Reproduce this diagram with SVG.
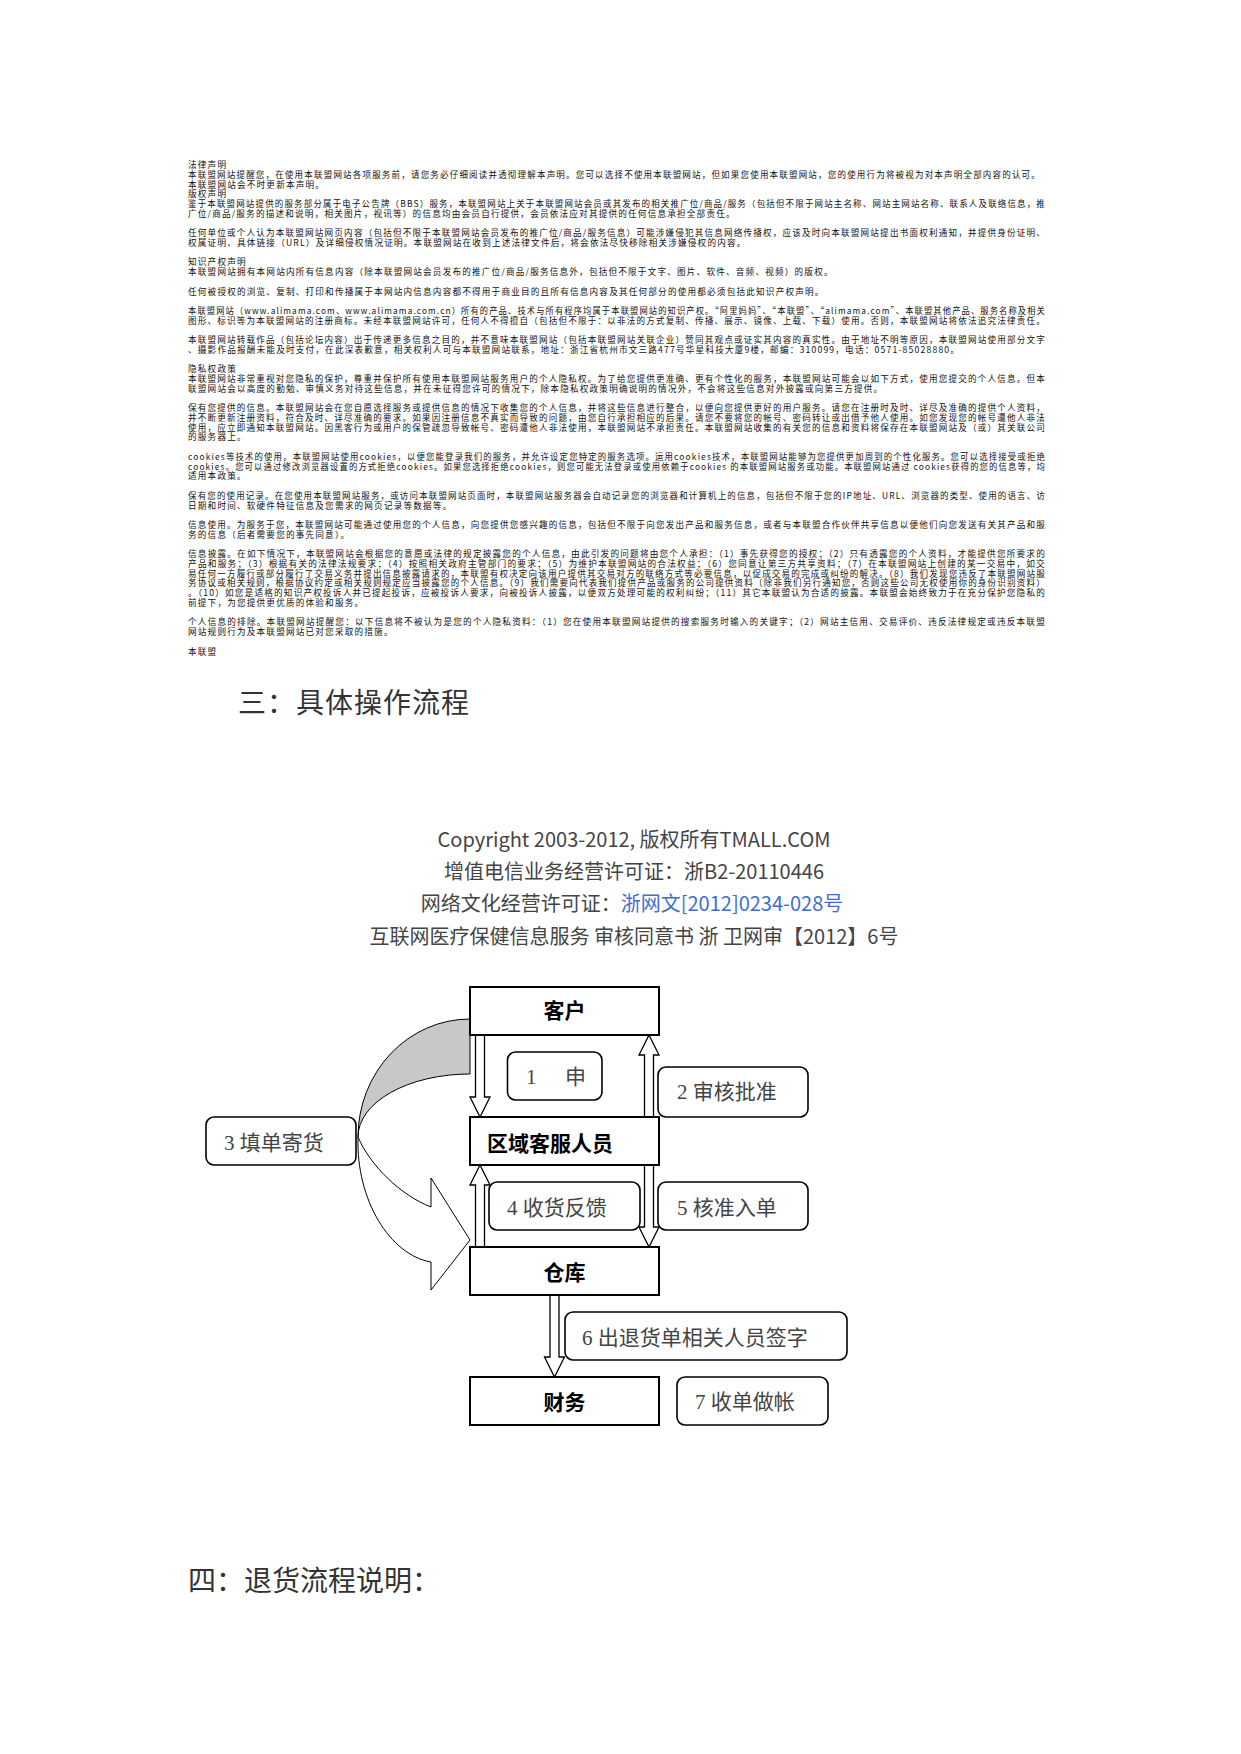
<svg xmlns="http://www.w3.org/2000/svg" width="1241" height="1754" viewBox="0 0 1241 1754">
<style>
.s{font-family:"Noto Sans CJK SC","Noto Sans",sans-serif;font-size:8.6px;letter-spacing:1.2px;fill:#111}
.h{font-family:"Noto Sans CJK SC",sans-serif;font-size:28px;fill:#333}
.c{font-family:"Noto Sans CJK SC","Open Sans",sans-serif;font-size:20px;fill:#444;text-anchor:middle}
.lk{fill:#3d6fd0}
.box{fill:#fff;stroke:#000;stroke-width:2}
.rbox{fill:#fff;stroke:#000;stroke-width:1.6}
.bt{font-family:"Noto Sans CJK SC",sans-serif;font-weight:bold;font-size:21px;fill:#000}
.lt{font-family:"Liberation Serif","Noto Sans CJK SC",serif;font-size:21px;fill:#444}
.arr{fill:#fff;stroke:#000;stroke-width:1.3}
</style>
<rect width="1241" height="1754" fill="#fff"/>
<g id="legal-text">
<text class="s" x="188" y="168.0">法律声明</text>
<text class="s" x="188" y="177.7" textLength="853" lengthAdjust="spacingAndGlyphs">本联盟网站提醒您，在使用本联盟网站各项服务前，请您务必仔细阅读并透彻理解本声明。您可以选择不使用本联盟网站，但如果您使用本联盟网站，您的使用行为将被视为对本声明全部内容的认可。</text>
<text class="s" x="188" y="187.5">本联盟网站会不时更新本声明。</text>
<text class="s" x="188" y="197.2">版权声明</text>
<text class="s" x="188" y="206.9" textLength="858" lengthAdjust="spacingAndGlyphs">鉴于本联盟网站提供的服务部分属于电子公告牌（BBS）服务，本联盟网站上关于本联盟网站会员或其发布的相关推广位/商品/服务（包括但不限于网站主名称、网站主网站名称、联系人及联络信息，推</text>
<text class="s" x="188" y="216.7">广位/商品/服务的描述和说明，相关图片，视讯等）的信息均由会员自行提供，会员依法应对其提供的任何信息承担全部责任。</text>
<text class="s" x="188" y="236.1" textLength="858" lengthAdjust="spacingAndGlyphs">任何单位或个人认为本联盟网站网页内容（包括但不限于本联盟网站会员发布的推广位/商品/服务信息）可能涉嫌侵犯其信息网络传播权，应该及时向本联盟网站提出书面权利通知，并提供身份证明、</text>
<text class="s" x="188" y="245.8">权属证明、具体链接（URL）及详细侵权情况证明。本联盟网站在收到上述法律文件后，将会依法尽快移除相关涉嫌侵权的内容。</text>
<text class="s" x="188" y="265.3">知识产权声明</text>
<text class="s" x="188" y="275.0">本联盟网站拥有本网站内所有信息内容（除本联盟网站会员发布的推广位/商品/服务信息外，包括但不限于文字、图片、软件、音频、视频）的版权。</text>
<text class="s" x="188" y="294.5">任何被授权的浏览、复制、打印和传播属于本网站内信息内容都不得用于商业目的且所有信息内容及其任何部分的使用都必须包括此知识产权声明。</text>
<text class="s" x="188" y="313.9" textLength="858" lengthAdjust="spacingAndGlyphs">本联盟网站（www.alimama.com、www.alimama.com.cn）所有的产品、技术与所有程序均属于本联盟网站的知识产权。“阿里妈妈”、“本联盟”、“alimama.com”、本联盟其他产品、服务名称及相关</text>
<text class="s" x="188" y="323.7" textLength="858" lengthAdjust="spacingAndGlyphs">图形、标识等为本联盟网站的注册商标。未经本联盟网站许可，任何人不得擅自（包括但不限于：以非法的方式复制、传播、展示、镜像、上载、下载）使用。否则，本联盟网站将依法追究法律责任。</text>
<text class="s" x="188" y="343.1" textLength="858" lengthAdjust="spacingAndGlyphs">本联盟网站转载作品（包括论坛内容）出于传递更多信息之目的，并不意味本联盟网站（包括本联盟网站关联企业）赞同其观点或证实其内容的真实性。由于地址不明等原因，本联盟网站使用部分文字</text>
<text class="s" x="188" y="352.9">、摄影作品报酬未能及时支付，在此深表歉意，相关权利人可与本联盟网站联系，地址：浙江省杭州市文三路477号华星科技大厦9楼，邮编：310099，电话：0571-85028880。</text>
<text class="s" x="188" y="372.3">隐私权政策</text>
<text class="s" x="188" y="382.1" textLength="858" lengthAdjust="spacingAndGlyphs">本联盟网站非常重视对您隐私的保护，尊重并保护所有使用本联盟网站服务用户的个人隐私权。为了给您提供更准确、更有个性化的服务，本联盟网站可能会以如下方式，使用您提交的个人信息。但本</text>
<text class="s" x="188" y="391.8">联盟网站会以高度的勤勉、审慎义务对待这些信息，并在未征得您许可的情况下，除本隐私权政策明确说明的情况外，不会将这些信息对外披露或向第三方提供。</text>
<text class="s" x="188" y="411.3" textLength="858" lengthAdjust="spacingAndGlyphs">保有您提供的信息。本联盟网站会在您自愿选择服务或提供信息的情况下收集您的个人信息，并将这些信息进行整合，以便向您提供更好的用户服务。请您在注册时及时、详尽及准确的提供个人资料，</text>
<text class="s" x="188" y="421.0" textLength="858" lengthAdjust="spacingAndGlyphs">并不断更新注册资料，符合及时、详尽准确的要求。如果因注册信息不真实而导致的问题，由您自行承担相应的后果。请您不要将您的帐号、密码转让或出借予他人使用。如您发现您的帐号遭他人非法</text>
<text class="s" x="188" y="430.7" textLength="858" lengthAdjust="spacingAndGlyphs">使用，应立即通知本联盟网站。因黑客行为或用户的保管疏忽导致帐号、密码遭他人非法使用，本联盟网站不承担责任。本联盟网站收集的有关您的信息和资料将保存在本联盟网站及（或）其关联公司</text>
<text class="s" x="188" y="440.4">的服务器上。</text>
<text class="s" x="188" y="459.9" textLength="858" lengthAdjust="spacingAndGlyphs">cookies等技术的使用。本联盟网站使用cookies，以便您能登录我们的服务，并允许设定您特定的服务选项。运用cookies技术，本联盟网站能够为您提供更加周到的个性化服务。您可以选择接受或拒绝</text>
<text class="s" x="188" y="469.6" textLength="858" lengthAdjust="spacingAndGlyphs">cookies。您可以通过修改浏览器设置的方式拒绝cookies。如果您选择拒绝cookies，则您可能无法登录或使用依赖于cookies 的本联盟网站服务或功能。本联盟网站通过 cookies获得的您的信息等，均</text>
<text class="s" x="188" y="479.4">适用本政策。</text>
<text class="s" x="188" y="498.8" textLength="858" lengthAdjust="spacingAndGlyphs">保有您的使用记录。在您使用本联盟网站服务，或访问本联盟网站页面时，本联盟网站服务器会自动记录您的浏览器和计算机上的信息，包括但不限于您的IP地址、URL、浏览器的类型、使用的语言、访</text>
<text class="s" x="188" y="508.6">日期和时间、软硬件特征信息及您需求的网页记录等数据等。</text>
<text class="s" x="188" y="528.0" textLength="858" lengthAdjust="spacingAndGlyphs">信息使用。为服务于您，本联盟网站可能通过使用您的个人信息，向您提供您感兴趣的信息，包括但不限于向您发出产品和服务信息，或者与本联盟合作伙伴共享信息以便他们向您发送有关其产品和服</text>
<text class="s" x="188" y="537.7">务的信息（后者需要您的事先同意）。</text>
<text class="s" x="188" y="557.2" textLength="858" lengthAdjust="spacingAndGlyphs">信息披露。在如下情况下，本联盟网站会根据您的意愿或法律的规定披露您的个人信息，由此引发的问题将由您个人承担：（1）事先获得您的授权；（2）只有透露您的个人资料，才能提供您所要求的</text>
<text class="s" x="188" y="566.9" textLength="858" lengthAdjust="spacingAndGlyphs">产品和服务；（3）根据有关的法律法规要求；（4）按照相关政府主管部门的要求；（5）为维护本联盟网站的合法权益；（6）您同意让第三方共享资料；（7）在本联盟网站上创建的某一交易中，如交</text>
<text class="s" x="188" y="576.7" textLength="858" lengthAdjust="spacingAndGlyphs">易任何一方履行或部分履行了交易义务并提出信息披露请求的，本联盟有权决定向该用户提供其交易对方的联络方式等必要信息，以促成交易的完成或纠纷的解决。（8）我们发现您违反了本联盟网站服</text>
<text class="s" x="188" y="586.4" textLength="858" lengthAdjust="spacingAndGlyphs">务协议或相关规则，根据协议约定或相关规则规定应当披露您的个人信息。（9）我们需要向代表我们提供产品或服务的公司提供资料（除非我们另行通知您，否则这些公司无权使用你的身份识别资料）</text>
<text class="s" x="188" y="596.1" textLength="858" lengthAdjust="spacingAndGlyphs">。（10）如您是适格的知识产权投诉人并已提起投诉，应被投诉人要求，向被投诉人披露，以便双方处理可能的权利纠纷；（11）其它本联盟认为合适的披露。本联盟会始终致力于在充分保护您隐私的</text>
<text class="s" x="188" y="605.9">前提下，为您提供更优质的体验和服务。</text>
<text class="s" x="188" y="625.3" textLength="858" lengthAdjust="spacingAndGlyphs">个人信息的排除。本联盟网站提醒您：以下信息将不被认为是您的个人隐私资料：（1）您在使用本联盟网站提供的搜索服务时输入的关键字；（2）网站主信用、交易评价、违反法律规定或违反本联盟</text>
<text class="s" x="188" y="635.0">网站规则行为及本联盟网站已对您采取的措施。</text>
<text class="s" x="188" y="654.5">本联盟</text>
</g>
<text class="h" x="238" y="713" letter-spacing="1">三：具体操作流程</text>
<g id="copyright">
<text class="c" x="634" y="847">Copyright 2003-2012, 版权所有TMALL.COM</text>
<text class="c" x="634" y="879">增值电信业务经营许可证：浙B2-20110446</text>
<text class="c" x="632" y="911">网络文化经营许可证：<tspan class="lk">浙网文[2012]0234-028号</tspan></text>
<text class="c" x="634" y="944" font-size="20.3">互联网医疗保健信息服务 审核同意书 浙 卫网审【2012】6号</text>
</g>
<g id="connectors">
<path id="curved-arrow-back" d="M470,1019 A112,118 0 0 0 358,1137 A112,63 0 0 1 470,1074 Z" fill="#c8c8c8" stroke="#000" stroke-width="1"/>
<path id="curved-arrow-front" d="M358,1137 C370,1165 400,1195 431,1207 L431,1178 L470,1240 L431,1290 L431,1262 C390,1255 356,1200 358,1137 Z" fill="#fff" stroke="#000" stroke-width="1"/>
<path class="arr" d="M475.5,1035 L475.5,1097 L470,1097 L480,1117 L490,1097 L484.5,1097 L484.5,1035 Z"/>
<path class="arr" d="M644.5,1117 L644.5,1055 L639,1055 L649,1035 L659,1055 L653.5,1055 L653.5,1117 Z"/>
<path class="arr" d="M475.5,1247 L475.5,1185 L470,1185 L480,1165 L490,1185 L484.5,1185 L484.5,1247 Z"/>
<path class="arr" d="M644.5,1165 L644.5,1227 L639,1227 L649,1247 L659,1227 L653.5,1227 L653.5,1165 Z"/>
<path class="arr" d="M550,1295 L550,1357 L544.5,1357 L554.5,1377 L564.5,1357 L559,1357 L559,1295 Z"/>
</g>
<g id="node-kehu"><rect class="box" x="470" y="987" width="189" height="48"/><text class="bt" x="564.5" y="1018" text-anchor="middle">客户</text></g>
<g id="node-quyu"><rect class="box" x="470" y="1117" width="189" height="48"/><text class="bt" x="487" y="1151">区域客服人员</text></g>
<g id="node-cangku"><rect class="box" x="470" y="1247" width="189" height="48"/><text class="bt" x="564.5" y="1280" text-anchor="middle">仓库</text></g>
<g id="node-caiwu"><rect class="box" x="470" y="1377" width="189" height="48"/><text class="bt" x="564.5" y="1410" text-anchor="middle">财务</text></g>
<g id="label-1"><rect class="rbox" x="507.5" y="1052" width="94.5" height="48" rx="8"/><text class="lt" y="1084"><tspan x="526">1</tspan><tspan x="565">申</tspan></text></g>
<g id="label-2"><rect class="rbox" x="658" y="1067" width="150" height="50" rx="8"/><text class="lt" x="677" y="1099">2 审核批准</text></g>
<g id="label-3"><rect class="rbox" x="206" y="1117" width="150" height="48" rx="8"/><text class="lt" x="224" y="1150">3 填单寄货</text></g>
<g id="label-4"><rect class="rbox" x="489" y="1182" width="151" height="48" rx="8"/><text class="lt" x="507" y="1215">4 收货反馈</text></g>
<g id="label-5"><rect class="rbox" x="658" y="1182" width="150" height="48" rx="8"/><text class="lt" x="677" y="1215">5 核准入单</text></g>
<g id="label-6"><rect class="rbox" x="565" y="1312" width="282" height="48" rx="8"/><text class="lt" x="582" y="1345">6 出退货单相关人员签字</text></g>
<g id="label-7"><rect class="rbox" x="677" y="1377" width="151" height="48" rx="8"/><text class="lt" x="695" y="1409">7 收单做帐</text></g>
<text class="h" x="188" y="1591" font-size="27">四：退货流程说明：</text>
</svg>
